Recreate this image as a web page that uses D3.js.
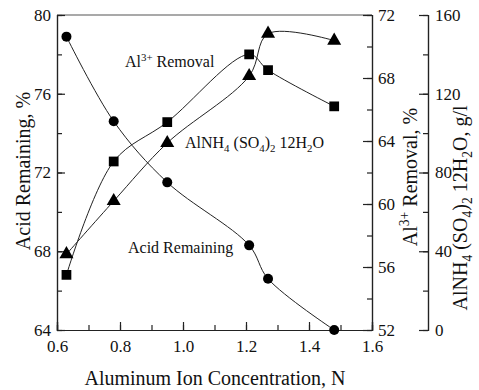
<!DOCTYPE html>
<html>
<head>
<meta charset="utf-8">
<script src="https://cdn.jsdelivr.net/npm/d3@7"></script>
<style>
  body { margin: 0; background: #fff; }
  svg, svg text { font-family: "Liberation Serif", "Times New Roman", "DejaVu Serif", serif; }
</style>
</head>
<body>
<svg id="chart" width="479" height="390"></svg>
<script>
// ---- data ----
const concentration = [0.63, 0.78, 0.95, 1.21, 1.27, 1.48];
const acidRemaining = [78.9, 74.6, 71.5, 68.3, 66.6, 64.0];
const alRemoval     = [55.5, 62.7, 65.2, 69.5, 68.5, 66.2];
const alumAmount    = [38.5, 65.5, 95.0, 129.0, 150.5, 147.0];

const xTicks = [0.6, 0.8, 1.0, 1.2, 1.4, 1.6];
const leftTicks = [64, 68, 72, 76, 80];
const right1Ticks = [52, 56, 60, 64, 68, 72];
const right2Ticks = [0, 40, 80, 120, 160];

const FONT = '"Liberation Serif", "Times New Roman", "DejaVu Serif", serif';
const svg = d3.select("#chart");
const L = 57, R = 372, T = 15, B = 330, R2 = 428;
const stroke = "#222";

const x = d3.scaleLinear().domain([0.6, 1.6]).range([L, R]);
const yL = d3.scaleLinear().domain([64, 80]).range([B, T]);
const yR1 = d3.scaleLinear().domain([52, 72]).range([B, T]);
const yR2 = d3.scaleLinear().domain([0, 160]).range([B, T]);

function styleAxis(g) {
  g.attr("font-family", FONT);
  g.selectAll("path").attr("stroke", stroke).attr("stroke-width", 1.2);
  g.selectAll("line").attr("stroke", stroke).attr("stroke-width", 1.2);
  g.selectAll("text").style("font-family", FONT).attr("font-size", 17).attr("fill", "#111");
}

// top frame
svg.append("line").attr("x1", L).attr("x2", R).attr("y1", T).attr("y2", T)
  .attr("stroke", "#555").attr("stroke-width", 1.2);

// x axis
svg.append("g").attr("transform", `translate(0,${B})`)
  .call(d3.axisBottom(x).tickValues(d3.range(0.6, 1.61, 0.1)).tickSize(-5).tickFormat(""))
  .call(styleAxis);
svg.append("g").attr("transform", `translate(0,${B})`)
  .call(d3.axisBottom(x).tickValues(xTicks).tickSize(-8).tickPadding(10).tickFormat(d3.format(".1f")))
  .call(styleAxis);

// left axis
svg.append("g").attr("transform", `translate(${L},0)`)
  .call(d3.axisLeft(yL).tickValues(d3.range(64, 80.1, 2)).tickSize(-5).tickFormat(""))
  .call(styleAxis);
svg.append("g").attr("transform", `translate(${L},0)`)
  .call(d3.axisLeft(yL).tickValues(leftTicks).tickSize(-8).tickPadding(6).tickFormat(d3.format("d")))
  .call(styleAxis);

// right axis 1
svg.append("g").attr("transform", `translate(${R},0)`)
  .call(d3.axisRight(yR1).tickValues(d3.range(52, 72.1, 2)).tickSize(-5).tickFormat(""))
  .call(styleAxis);
svg.append("g").attr("transform", `translate(${R},0)`)
  .call(d3.axisRight(yR1).tickValues(right1Ticks).tickSize(-9).tickPadding(6).tickFormat(d3.format("d")))
  .call(styleAxis);

// right axis 2
svg.append("g").attr("transform", `translate(${R2},0)`)
  .call(d3.axisRight(yR2).tickValues(d3.range(0, 160.1, 20)).tickSize(-5).tickFormat(""))
  .call(styleAxis);
svg.append("g").attr("transform", `translate(${R2},0)`)
  .call(d3.axisRight(yR2).tickValues(right2Ticks).tickSize(-9).tickPadding(7).tickFormat(d3.format("d")))
  .call(styleAxis);

// lines
const curve = d3.curveCatmullRom.alpha(0.5);
function drawSeries(vals, y) {
  const pts = concentration.map((c, i) => [c, vals[i]]);
  svg.append("path").datum(pts)
    .attr("fill", "none").attr("stroke", stroke).attr("stroke-width", 1)
    .attr("d", d3.line().x(d => x(d[0])).y(d => y(d[1])).curve(curve));
  return pts;
}
const acidPts = drawSeries(acidRemaining, yL);
const alPts = drawSeries(alRemoval, yR1);
const alumPts = drawSeries(alumAmount, yR2);

svg.append("g").selectAll("circle").data(acidPts).join("circle")
  .attr("cx", d => x(d[0])).attr("cy", d => yL(d[1])).attr("r", 5).attr("fill", "#000");
svg.append("g").selectAll("path").data(alPts).join("path")
  .attr("transform", d => `translate(${x(d[0])},${yR1(d[1])})`)
  .attr("d", d3.symbol(d3.symbolSquare, 95)).attr("fill", "#000");
svg.append("g").selectAll("path").data(alumPts).join("path")
  .attr("transform", d => `translate(${x(d[0])},${yR2(d[1])})`)
  .attr("d", d3.symbol(d3.symbolTriangle, 85)).attr("fill", "#000");

// annotations
function label(xp, yp, size, parts, rotate, anchor) {
  const t = svg.append("text")
    .style("font-family", FONT)
    .attr("font-size", size).attr("fill", "#111")
    .attr("text-anchor", anchor || "start");
  if (rotate) t.attr("transform", `translate(${xp},${yp}) rotate(-90)`);
  else t.attr("x", xp).attr("y", yp);
  const S = size;
  parts.forEach(p => {
    const ts = t.append("tspan").text(p.t);
    if (p.sub) ts.attr("font-size", S * 0.68).attr("dy", S * 0.25);
    if (p.sup) ts.attr("font-size", S * 0.68).attr("dy", -S * 0.4);
    if (p.reset) ts.attr("dy", p.reset);
  });
  return t;
}

label(125, 67, 16, [{t: "Al"}, {t: "3+", sup: true}, {t: " Removal", reset: 16 * 0.4}]);
label(185, 148, 16, [{t: "AlNH"}, {t: "4", sub: true}, {t: " (SO", reset: -16 * 0.25}, {t: "4", sub: true},
  {t: ")", reset: -16 * 0.25}, {t: "2", sub: true}, {t: " 12H", reset: -16 * 0.25}, {t: "2", sub: true}, {t: "O", reset: -16 * 0.25}]);
label(128, 253, 16, [{t: "Acid Remaining"}]);

// axis titles
label(215, 385, 20, [{t: "Aluminum Ion Concentration, N"}], false, "middle");
label(30, 171, 20, [{t: "Acid Remaining, %"}], true, "middle");
label(417, 177, 20, [{t: "Al"}, {t: "3+", sup: true}, {t: " Removal, %", reset: 20 * 0.4}], true, "middle");
label(467, 208, 20, [{t: "AlNH"}, {t: "4", sub: true}, {t: " (SO", reset: -20 * 0.25}, {t: "4", sub: true},
  {t: ")", reset: -20 * 0.25}, {t: "2", sub: true}, {t: " 12H", reset: -20 * 0.25}, {t: "2", sub: true}, {t: "O, g/l", reset: -20 * 0.25}], true, "middle");
</script>
</body>
</html>
